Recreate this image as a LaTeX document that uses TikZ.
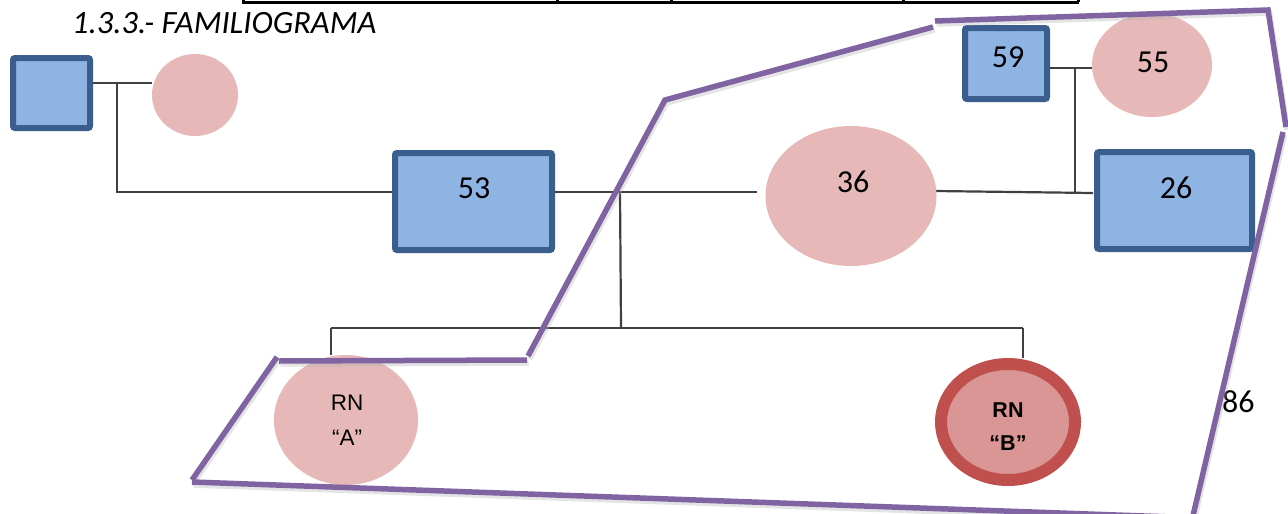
\documentclass[tikz,border=0pt]{standalone}
\usepackage{fontspec}
\setmainfont{Carlito}
\newfontfamily\arialfont{Liberation Sans}
\usetikzlibrary{shapes.geometric,backgrounds}
\definecolor{boxfill}{HTML}{8EB4E3}
\definecolor{boxline}{HTML}{3A5F8E}
\definecolor{pinkfill}{HTML}{E6B9B8}
\definecolor{redfill}{HTML}{D99694}
\definecolor{redline}{HTML}{C0504D}
\definecolor{purp}{HTML}{8064A2}
\definecolor{conn}{HTML}{404040}
\tikzset{
  male/.style={draw=boxline, fill=boxfill, line width=6pt, rounded corners=2pt, inner sep=0pt},
  female/.style={ellipse, fill=pinkfill, inner sep=0pt},
  rnb/.style={ellipse, draw=redline, fill=redfill, line width=12pt, inner sep=0pt},
  num/.style={font=\fontsize{32}{34}\selectfont, inner sep=0pt},
  rntext/.style={font=\arialfont\fontsize{22.5}{35}\selectfont, align=center, inner sep=0pt},
  link/.style={draw=conn, line width=2.2pt},
  border/.style={draw=purp, line width=5.5pt},
  shade/.style={draw=black!30, line width=5.5pt, opacity=0.35},
  tbl/.style={draw=black, line width=3pt}
}
\begin{document}
\begin{tikzpicture}[x=1pt, y=-1pt]
\useasboundingbox (0,0) rectangle (1288,514);
\clip (0,0) rectangle (1288,514);

% top table edge
\draw[tbl] (242,2) -- (1079,2);
\foreach \xx in {243,557,671,903,1078} \draw[tbl] (\xx,-2) -- (\xx,2);

% title
\node[anchor=base west, font=\itshape\fontsize{32.5}{34}\selectfont, inner sep=0pt] (title) at (72,34) {1.3.3.- FAMILIOGRAMA};

% nodes
\node[male, minimum width=77pt, minimum height=70pt] (g1) at (51.5,93) {};
\node[female, minimum width=86pt, minimum height=82pt] (g2) at (195,95) {};
\node[male, minimum width=157pt, minimum height=97pt] (b53) at (473.5,201.5) {};
\node[female, minimum width=171pt, minimum height=140pt] (e36) at (851,196) {};
\node[male, minimum width=155pt, minimum height=97pt] (b26) at (1174.5,200.5) {};
\node[male, minimum width=82pt, minimum height=71pt] (b59) at (1006,63.5) {};
\node[female, minimum width=120pt, minimum height=104pt] (e55) at (1152,65) {};
\node[female, minimum width=144pt, minimum height=130pt] (ea) at (346,420) {};
\node[rnb, minimum width=134pt, minimum height=116pt] (eb) at (1008,422) {};

% texts
\node[num] (t53) at (474,188) {53};
\node[num] (t36) at (853,182) {36};
\node[num] (t26) at (1176,188) {26};
\node[num] (t59) at (1008,57) {59};
\node[num] (t55) at (1153,62) {55};
\node[num, anchor=base west] (t86) at (1222,412) {86};
\node[rntext, anchor=base] (ta) at (347,445) {RN\\“A”};
\node[rntext, anchor=base, font=\arialfont\bfseries\fontsize{21.5}{33}\selectfont] (tb) at (1008,450) {RN\\“B”};

% connectors
\coordinate (c1) at (117,83);
\coordinate (c2) at (117,192);
\coordinate (c3) at (757,192);
\coordinate (c4) at (620,192);
\coordinate (c5) at (621,327);
\coordinate (c6) at (331,328);
\coordinate (c7) at (1023,328);
\coordinate (c8) at (1075,68);
\coordinate (c9) at (1075,193);
\coordinate (c10) at (935,191);
\coordinate (c11) at (1093,193);
\begin{scope}[on background layer]
\fill[white] (0,0) rectangle (1288,514);
\draw[link] (g1.east |- c1) -- (g2.west |- c1);
\draw[link] (c1) -- (c2) -- (b53.west |- c2);
\draw[link] (b53.east |- c3) -- (c3);
\draw[link] (c4) -- (c5);
\draw[link] (c6) -- (c7);
\draw[link] (c6) -- (c6 |- ea.north);
\draw[link] (c7) -- (c7 |- eb.north);
\draw[link] (b59.east |- c8) -- (e55.west |- c8);
\draw[link] (c8) -- (c9);
\draw[link] (c10) -- (c11);
\end{scope}

% purple boundary (with faint shadow)
\foreach \st/\dx/\dy in {shade/1.5/3, border/0/0}{
\begin{scope}[shift={(\dx,\dy)}]
\draw[\st] (192,480) -- (277,357);
\draw[\st] (279,361) -- (527,360);
\draw[\st] (528,356) -- (665,100) -- (933,27);
\draw[\st] (935,21) -- (1268,10) -- (1286,127);
\draw[\st] (1283,132) -- (1192,520);
\draw[\st] (192,482) -- (1200,518);
\end{scope}}
\end{tikzpicture}
\end{document}
